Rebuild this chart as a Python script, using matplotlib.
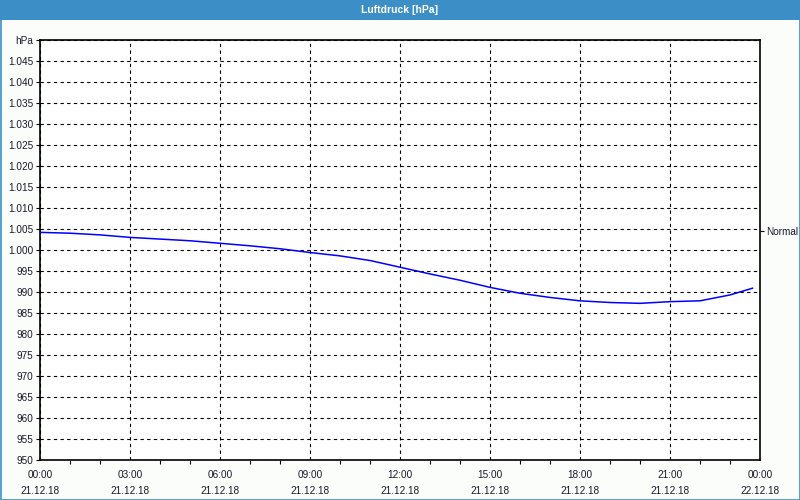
import matplotlib
matplotlib.use("Agg")
import matplotlib.pyplot as plt
from matplotlib.patches import Rectangle
from matplotlib.ticker import MultipleLocator

# Luftdruck 21.12.18, Stundenwerte (Ende kurz vor Mitternacht)
hours = [0, 1, 2, 3, 4, 5, 6, 7, 8, 9, 10, 11, 12, 13, 14, 15, 16, 17, 18,
         19, 20, 21, 22, 23, 23.75]
pressure = [1004.2, 1004.0, 1003.6, 1003.0, 1002.6, 1002.2, 1001.6, 1001.0,
            1000.3, 999.4, 998.6, 997.5, 995.9, 994.3, 992.8, 991.1, 989.7,
            988.7, 987.9, 987.5, 987.3, 987.7, 987.9, 989.3, 990.9]

x_ticks = [0, 3, 6, 9, 12, 15, 18, 21, 24]
x_labels = ["00:00\n21.12.18", "03:00\n21.12.18", "06:00\n21.12.18",
            "09:00\n21.12.18", "12:00\n21.12.18", "15:00\n21.12.18",
            "18:00\n21.12.18", "21:00\n21.12.18", "00:00\n22.12.18"]
y_ticks = list(range(950, 1051, 5))
y_labels = [f"{v // 1000}.{v % 1000:03d}" if v >= 1000 else str(v) for v in y_ticks]
y_labels[-1] = "hPa"
normal_value = 1004.5

plt.rcParams["font.family"] = ["Liberation Sans", "DejaVu Sans"]
plt.rcParams["font.size"] = 7.2

bg = "#fbfdfb"
blue = "#3c8fc6"
txt = "#1a1a2a"

fig = plt.figure(figsize=(8, 5), dpi=100, facecolor=bg)

# Titelleiste und Rahmen
fig.patches.append(Rectangle((0, 1 - 20 / 500), 1, 20 / 500, transform=fig.transFigure,
                             facecolor=blue, edgecolor="none", zorder=0))
fig.patches.append(Rectangle((0.5 / 800, 0.5 / 500), 1 - 1 / 800, 1 - 1 / 500,
                             transform=fig.transFigure, facecolor="none",
                             edgecolor=blue, linewidth=1.2, zorder=0))
fig.text(0.5, 1 - 10 / 500, "Luftdruck [hPa]", color="white", ha="center", va="center",
         fontsize=7.5, fontweight="bold")

ax = fig.add_axes([40 / 800, 40 / 500, 720 / 800, 420 / 500])
ax.set_facecolor("white")
ax.plot(hours, pressure, color="#0000ff", linewidth=1.1, zorder=3)

ax.set_xlim(0, 24)
ax.set_ylim(950, 1050)
ax.set_xticks(x_ticks)
ax.set_xticklabels(x_labels, color=txt, linespacing=1.75)
ax.xaxis.set_minor_locator(MultipleLocator(1))
ax.set_yticks(y_ticks)
ax.set_yticklabels(y_labels, color=txt)

ax.tick_params(axis="x", which="major", length=0, pad=7)
ax.tick_params(axis="x", which="minor", length=3, width=0.8, direction="out")
ax.tick_params(axis="y", length=3, width=0.8, pad=2)

ax.grid(True, which="major", color="black", linestyle=(0, (3, 3)), linewidth=0.8)
for s in ax.spines.values():
    s.set_linewidth(1.2)
    s.set_color("black")

# Markierung "Normal" rechts
ax2 = ax.twinx()
ax2.set_ylim(950, 1050)
ax2.set_yticks([normal_value])
ax2.set_yticklabels(["Normal"], color=txt)
ax2.tick_params(axis="y", length=3, width=0.8, pad=1.5)
for s in ax2.spines.values():
    s.set_visible(False)

fig.savefig("out.png", dpi=100, facecolor=bg)
